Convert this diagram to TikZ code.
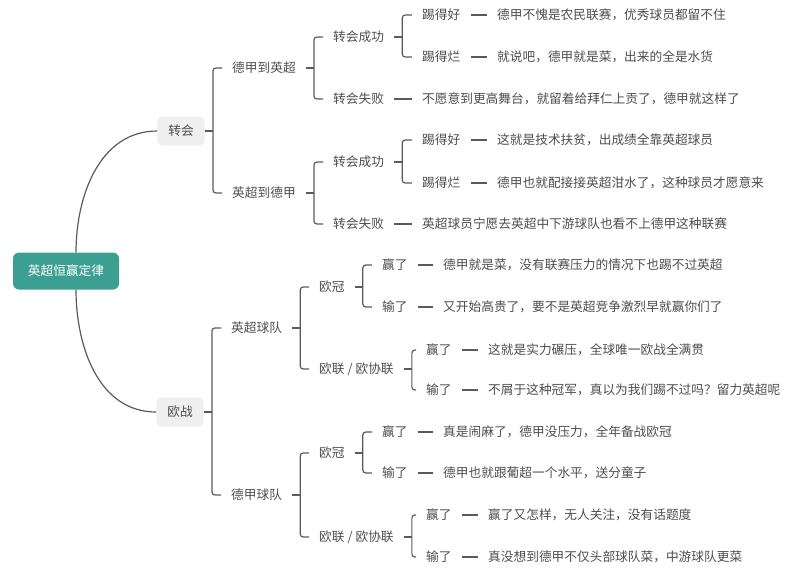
\documentclass[tikz,border=0pt]{standalone}
\usepackage{fontspec}
\setmainfont{Noto Sans CJK SC}

\definecolor{rootTeal}{HTML}{3BA092}
\definecolor{inkGray}{HTML}{4D4D4D}
\definecolor{lineGray}{HTML}{5A5A5A}
\definecolor{boxGray}{HTML}{EFEFEF}

\tikzset{
  root/.style={fill=rootTeal, text=white, rounded corners=6pt, minimum width=106pt, minimum height=37pt},
  topic/.style={fill=boxGray, text=inkGray, rounded corners=5pt, minimum height=29pt, inner xsep=11pt},
  subtopic/.style={anchor=west, text=inkGray, inner xsep=10pt, inner ysep=2pt},
  comment/.style={anchor=west, text=inkGray, inner xsep=10pt, inner ysep=2pt},
  branch/.style={draw=lineGray, line width=1.2pt, rounded corners=3pt}
}
\newcommand{\drawStub}[1]{\draw[branch] (#1.east) -- ([xshift=8pt]#1.east);}
\newcommand{\drawBranch}[2]{\draw[branch] ([xshift=8pt]#1.east) |- (#2.west);}
\newcommand{\drawLeaf}[5]{
  \node[subtopic] (#1) at (#2) {#3};
  \node[comment] (#1Say) at (#4) {#5};
  \draw[branch] (#1) -- (#1Say);
}

\begin{document}
\begin{tikzpicture}[x=1pt, y=-1pt, font=\fontsize{12.7}{15}\selectfont]
  \useasboundingbox (0,0) rectangle (800,570);
  % Nodes
  \node[root] (rule) at (66,271) {英超恒赢定律};
  \node[topic] (transfer) at (181,131) {转会};
  \node[topic] (euro) at (180,412) {欧战};
  \draw[branch, rounded corners=0pt] ([xshift=10pt]rule.north) to[out=90, in=180] (transfer.west);
  \draw[branch, rounded corners=0pt] ([xshift=10pt]rule.south) to[out=-90, in=180] (euro.west);

  % 转会
  \node[subtopic] (toEPL) at (222,68) {德甲到英超};
  \node[subtopic] (toBL) at (222,193) {英超到德甲};
  \drawStub{transfer}
  \drawBranch{transfer}{toEPL}
  \drawBranch{transfer}{toBL}

  \node[subtopic] (toEPLWin) at (323,37) {转会成功};
  \drawLeaf{toEPLFail}{323,99}{转会失败}{412,99}{不愿意到更高舞台，就留着给拜仁上贡了，德甲就这样了}
  \drawStub{toEPL}
  \drawBranch{toEPL}{toEPLWin}
  \drawBranch{toEPL}{toEPLFail}
  \drawLeaf{toEPLGood}{412,15}{踢得好}{487,15}{德甲不愧是农民联赛，优秀球员都留不住}
  \drawLeaf{toEPLBad}{412,57}{踢得烂}{487,57}{就说吧，德甲就是菜，出来的全是水货}
  \drawStub{toEPLWin}
  \drawBranch{toEPLWin}{toEPLGood}
  \drawBranch{toEPLWin}{toEPLBad}

  \node[subtopic] (toBLWin) at (323,162) {转会成功};
  \drawLeaf{toBLFail}{323,224}{转会失败}{412,224}{英超球员宁愿去英超中下游球队也看不上德甲这种联赛}
  \drawStub{toBL}
  \drawBranch{toBL}{toBLWin}
  \drawBranch{toBL}{toBLFail}
  \drawLeaf{toBLGood}{412,140}{踢得好}{487,140}{这就是技术扶贫，出成绩全靠英超球员}
  \drawLeaf{toBLBad}{412,183}{踢得烂}{487,183}{德甲也就配接接英超泔水了，这种球员才愿意来}
  \drawStub{toBLWin}
  \drawBranch{toBLWin}{toBLGood}
  \drawBranch{toBLWin}{toBLBad}

  % 欧战
  \node[subtopic] (epl) at (221,328) {英超球队};
  \node[subtopic] (bl) at (221,495) {德甲球队};
  \drawStub{euro}
  \drawBranch{euro}{epl}
  \drawBranch{euro}{bl}

  \node[subtopic] (eplUCL) at (309,287) {欧冠};
  \node[subtopic] (eplUEL) at (309,369) {欧联\kern3pt/\kern3pt欧协联};
  \drawStub{epl}
  \drawBranch{epl}{eplUCL}
  \drawBranch{epl}{eplUEL}
  \drawLeaf{eplUCLWin}{372,265}{赢了}{433,265}{德甲就是菜，没有联赛压力的情况下也踢不过英超}
  \drawLeaf{eplUCLLose}{372,307}{输了}{433,307}{又开始高贵了，要不是英超竞争激烈早就赢你们了}
  \drawStub{eplUCL}
  \drawBranch{eplUCL}{eplUCLWin}
  \drawBranch{eplUCL}{eplUCLLose}
  \drawLeaf{eplUELWin}{416,350}{赢了}{478,350}{这就是实力碾压，全球唯一欧战全满贯}
  \drawLeaf{eplUELLose}{416,390}{输了}{478,390}{不屑于这种冠军，真以为我们踢不过吗？留力英超呢}
  \drawStub{eplUEL}
  \drawBranch{eplUEL}{eplUELWin}
  \drawBranch{eplUEL}{eplUELLose}

  \node[subtopic] (blUCL) at (309,453) {欧冠};
  \node[subtopic] (blUEL) at (309,537) {欧联\kern3pt/\kern3pt欧协联};
  \drawStub{bl}
  \drawBranch{bl}{blUCL}
  \drawBranch{bl}{blUEL}
  \drawLeaf{blUCLWin}{372,432}{赢了}{433,432}{真是闹麻了，德甲没压力，全年备战欧冠}
  \drawLeaf{blUCLLose}{372,473}{输了}{433,473}{德甲也就跟葡超一个水平，送分童子}
  \drawStub{blUCL}
  \drawBranch{blUCL}{blUCLWin}
  \drawBranch{blUCL}{blUCLLose}
  \drawLeaf{blUELWin}{416,515}{赢了}{478,515}{赢了又怎样，无人关注，没有话题度}
  \drawLeaf{blUELLose}{416,557}{输了}{478,557}{真没想到德甲不仅头部球队菜，中游球队更菜}
  \drawStub{blUEL}
  \drawBranch{blUEL}{blUELWin}
  \drawBranch{blUEL}{blUELLose}

\end{tikzpicture}
\end{document}
